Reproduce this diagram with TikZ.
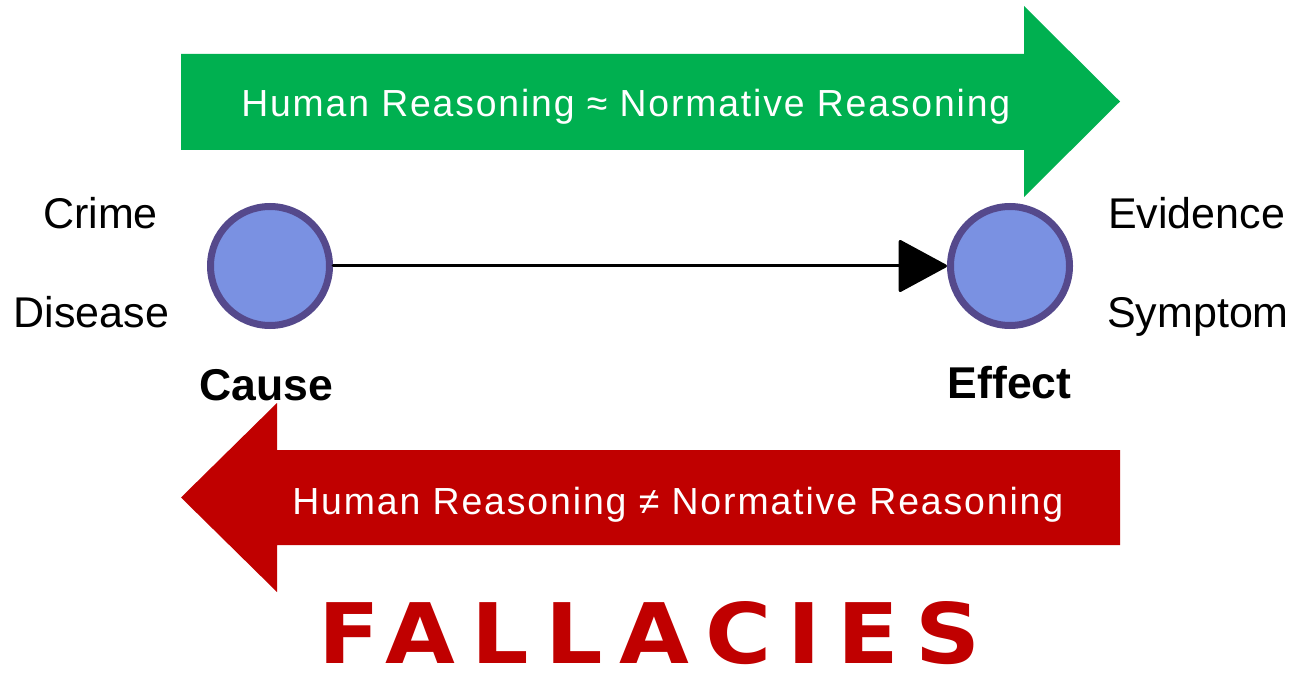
\documentclass[tikz,border=0pt]{standalone}
\usepackage{fontspec}
\setmainfont{Liberation Sans}
\newfontfamily\bandfont{Liberation Sans}[LetterSpace=5]
\newfontfamily\brushfont{DejaVu Sans}[LetterSpace=18]
\usetikzlibrary{arrows.meta}

\definecolor{bandgreen}{RGB}{0,176,80}
\definecolor{bandred}{RGB}{192,0,0}
\definecolor{varfill}{RGB}{122,145,226}
\definecolor{varborder}{RGB}{85,73,140}

\begin{document}
\begin{tikzpicture}[x=0.75pt,y=-0.75pt,
  varnode/.style={circle,fill=varfill,draw=varborder,line width=5.25pt,
    minimum size=89.25pt,inner sep=0pt},
  sidelabel/.style={anchor=base,inner sep=0pt,
    font=\fontsize{32.25pt}{36pt}\selectfont},
  rolelabel/.style={anchor=base,inner sep=0pt,
    font=\fontsize{33.4pt}{38pt}\selectfont\bfseries},
  bandtext/.style={anchor=base west,inner sep=0pt,text=white,font=\bandfont},
  causal/.style={line width=2.25pt,line cap=round,
    -{Triangle[length=37.5pt,width=40pt,round]}}
]
\useasboundingbox (0,0) rectangle (1303,684);

% forward band (cause -> effect)
\fill[bandgreen] (181,54) -- (1024,54) -- (1024,6) -- (1120,101.5)
  -- (1024,197) -- (1024,150) -- (181,150) -- cycle;
\node[bandtext] (fwd) at (241,117)
  {\resizebox{576.75pt}{20.5pt}{Human Reasoning ≈ Normative Reasoning}};

% backward band (effect -> cause)
\fill[bandred] (1120,450) -- (277,450) -- (277,403) -- (181,497.5)
  -- (277,592) -- (277,545) -- (1120,545) -- cycle;
\node[bandtext] (bwd) at (292,514)
  {\resizebox{578.25pt}{20.5pt}{Human Reasoning ≠ Normative Reasoning}};

% causal graph
\node[varnode] (cause) at (270,266) {};
\node[varnode] (effect) at (1010,266) {};
\draw[causal] (cause.east) -- (effect.west);

\node[rolelabel] (causelbl) at (266,400) {Cause};
\node[rolelabel] (effectlbl) at (1009.5,398) {Effect};

% examples on either side
\node[sidelabel] (crime) at (100.5,229) {Crime};
\node[sidelabel] (disease) at (91.5,328) {Disease};
\node[sidelabel] (evidence) at (1196.5,229) {Evidence};
\node[sidelabel] (symptom) at (1198,328) {Symptom};

% title
\node[anchor=base west,inner sep=0pt,text=bandred] (fallacies) at (318,663)
  {\resizebox{496.5pt}{46.5pt}{\brushfont\bfseries FALLACIES}};
\end{tikzpicture}
\end{document}
